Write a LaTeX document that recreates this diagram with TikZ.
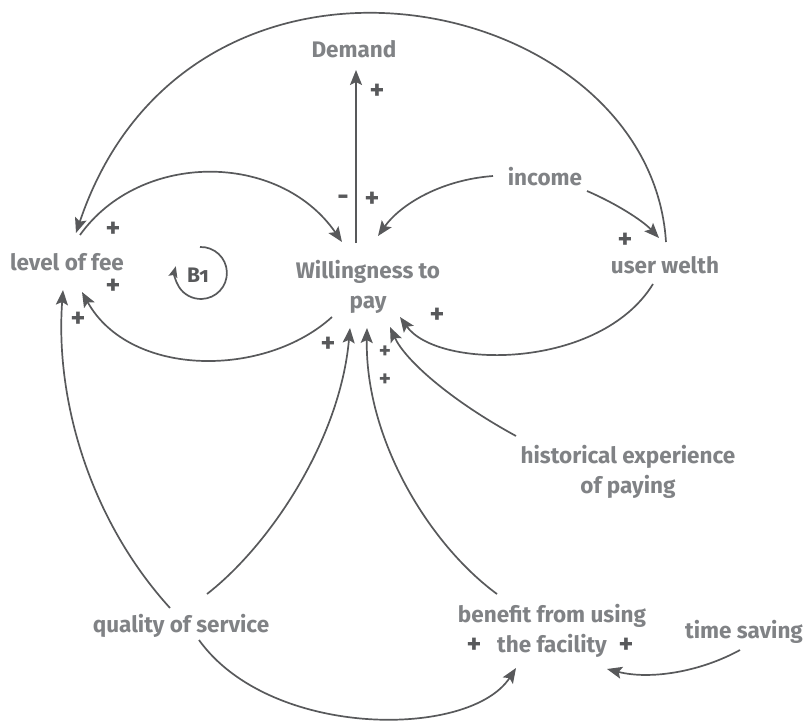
\documentclass[tikz,border=0pt]{standalone}
\usepackage{fontspec}
\setmainfont{Fira Sans}
\usetikzlibrary{arrows.meta,calc}
\definecolor{txt}{HTML}{808285}
\definecolor{ln}{HTML}{58595B}
\begin{document}
\begin{tikzpicture}[x=1pt,y=-1pt,
  lbl/.style={text=txt,font=\fontsize{22.5}{30}\selectfont\bfseries,inner sep=1pt},
  sgn/.style={text=ln,font=\fontsize{28}{30}\selectfont\bfseries,inner sep=0pt},
  sgnsmall/.style={sgn,font=\fontsize{23}{25}\selectfont\bfseries},
  link/.style={draw=ln,line width=1.7pt,-{Stealth[length=15pt,width=12pt,inset=3pt]}}]
\useasboundingbox (0,0) rectangle (808,722);
% variables
\node[lbl] (demand) at (354,49) {Demand};
\node[lbl] (fee) at (67,262) {level of fee};
\node[lbl,align=center] (wtp) at (368,287) {Willingness to\\pay};
\node[lbl] (income) at (545,177) {income};
\node[lbl] (wealth) at (665,265) {user welth};
\node[lbl,align=center] (hist) at (628,472) {historical experience\\of paying};
\node[lbl] (qos) at (181,626) {quality of service};
\node[lbl,align=center] (benefit) at (552,631) {benefit from using\\the facility};
\node[lbl] (time) at (744,632) {time saving};
% loop marker
\node[text=ln,font=\fontsize{21}{24}\selectfont\bfseries\addfontfeatures{Numbers=OldStyle}] (b1) at (198,275) {B1};
\draw[link,-{Stealth[length=11pt,width=9pt,inset=2pt]}] ($(b1)+(2,-28)$) arc[start angle=-92,end angle=195,radius=26];
% connectors
\draw[link] ($(wtp)+(-12,-44)$) -- ($(demand)+(2,21)$);
\draw[link] ($(wealth)+(1,-23)$) .. controls (650,-10) and (190,-105) .. ($(fee)+(9,-29)$);
\draw[link] ($(fee)+(13,-27)$) .. controls (140,151) and (279,151) .. ($(wtp)+(-26,-45)$);
\draw[link] ($(wtp)+(-36,30)$) .. controls (265,378) and (130,378) .. ($(fee)+(15,30)$);
\draw[link] ($(income)+(-52,-1)$) .. controls (440,180) and (400,205) .. ($(wtp)+(10,-51)$);
\draw[link] ($(income)+(42,14)$) .. controls (615,203) and (642,220) .. ($(wealth)+(-6,-27)$);
\draw[link] ($(wealth)+(-12,19)$) .. controls (600,370) and (438,370) .. ($(wtp)+(32,30)$);
\draw[link] ($(hist)+(-112,-36)$) .. controls (450,400) and (405,360) .. ($(wtp)+(22,40)$);
\draw[link] ($(qos)+(-11,-18)$) .. controls (90,520) and (55,400) .. ($(fee)+(-4,28)$);
\draw[link] ($(qos)+(26,-32)$) .. controls (270,545) and (340,440) .. ($(wtp)+(-18,41)$);
\draw[link] ($(benefit)+(-55,-37)$) .. controls (430,545) and (365,440) .. ($(wtp)+(-1,41)$);
\draw[link] ($(qos)+(18,14)$) .. controls (270,739) and (470,739) .. ($(benefit)+(-36,37)$);
\draw[link] ($(time)+(-4,18)$) .. controls (700,672) and (650,680) .. ($(benefit)+(55,38)$);
% polarities
\node[sgn] (p1) at (377,92) {+};
\node[sgn] (p2) at (343,200) {-};
\node[sgn] (p3) at (372,200) {+};
\node[sgn] (p4) at (113,230) {+};
\node[sgn] (p5) at (113,287) {+};
\node[sgn] (p6) at (78,320) {+};
\node[sgn] (p7) at (625,241) {+};
\node[sgn] (p8) at (437,316) {+};
\node[sgn] (p9) at (328,345) {+};
\node[sgnsmall] (p10) at (385,352) {+};
\node[sgnsmall] (p11) at (385,380) {+};
\node[sgn] (p12) at (474,646) {+};
\node[sgn] (p13) at (626,646) {+};
\end{tikzpicture}
\end{document}
